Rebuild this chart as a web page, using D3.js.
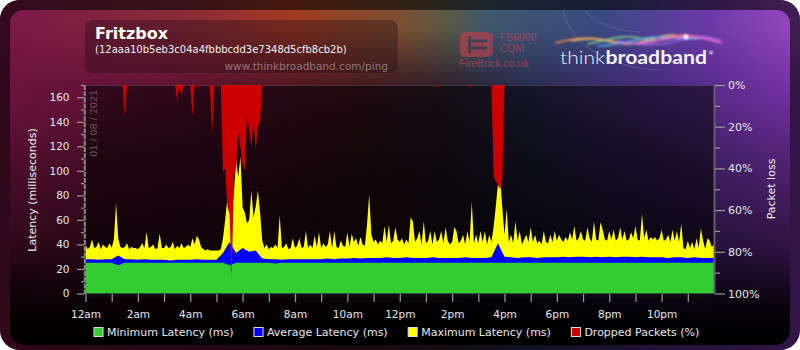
<!DOCTYPE html>
<html><head><meta charset="utf-8">
<script src="https://cdn.jsdelivr.net/npm/d3@7"></script>
<style>html,body{margin:0;padding:0;background:#fff;} svg{display:block;font-family:"DejaVu Sans",sans-serif;}</style>
</head><body><svg id="c" width="800" height="350"></svg>
<script>
// ---------------- DATA ----------------
const chartTitle = "Fritzbox";
const chartId = "(12aaa10b5eb3c04a4fbbbcdd3e7348d5cfb8cb2b)";
const chartUrl = "www.thinkbroadband.com/ping";
const chartDate = "01 / 08 / 2021";
const hourTicks = [0,1,2,3,4,5,6,7,8,9,10,11,12,13,14,15,16,17,18,19,20,21,22,23];
const hourLabels = {0:"12am",2:"2am",4:"4am",6:"6am",8:"8am",10:"10am",12:"12pm",14:"2pm",16:"4pm",18:"6pm",20:"8pm",22:"10pm"};
const latencyTicks = [0,20,40,60,80,100,120,140,160];
const latencyMinorTicks = [10,30,50,70,90,110,130,150,170];
const lossTicks = [0,20,40,60,80,100];
const lossMinorTicks = [10,30,50,70,90];
const legendLabels = ["Minimum Latency (ms)","Average Latency (ms)","Maximum Latency (ms)","Dropped Packets (%)"];
const legendColors = ["#33cc33","#0000ff","#ffff00","#cc0000"];

// maximum latency (ms), one value every 5 minutes from 00:00 to 24:00
const maxLatency = [
40,36,38,44,37,38,42,36,40,38,37,41,
37,44,74,45,38,37,38,41,36,38,37,37,
36,38,41,37,50,37,38,40,36,37,49,37,
37,40,37,38,42,36,39,37,41,37,38,40,
38,45,40,47,44,38,36,35,36,35,35,35,
35,35,36,45,60,78,74,62,82,109,95,112,
70,66,57,60,84,62,71,84,66,43,37,40,
36,38,37,40,37,64,37,38,41,36,37,45,
37,39,45,37,38,51,37,40,37,47,38,50,
37,41,38,40,51,37,51,38,37,43,39,38,
50,38,49,42,45,39,46,40,39,56,81,48,
42,44,40,43,41,55,42,56,41,43,54,44,
42,45,40,44,41,62,59,42,45,51,40,59,
41,43,51,40,51,42,44,51,41,54,43,40,
42,54,51,41,43,48,40,51,42,75,41,48,
41,51,42,51,40,48,42,54,71,89,95,70,
48,69,42,48,41,59,43,51,40,44,48,42,
54,42,48,41,43,40,51,42,41,48,42,51,
43,48,44,42,46,43,50,44,55,43,45,51,
44,43,54,45,42,59,44,43,58,52,44,43,
51,44,52,43,45,54,44,51,43,44,50,45,
55,44,43,65,45,52,43,46,44,46,43,45,
52,43,44,48,42,52,43,51,42,57,37,36,
43,37,42,36,45,37,53,43,36,45,43,38,
40];

// average latency (ms), one value every 15 minutes
const avgLatency = [
28,28,27.5,28, 28,31,28,28, 27.5,28,27.5,27.5, 27.5,27,27.5,27.5,
27.5,28,27.5,27.5, 27.5,33,42,33, 37,34,35,28.5, 28,28,27.5,28,
28,28,28,28, 28,28.5,28,28.5, 28.5,29,28.5,29, 29,29,29.5,29,
29,29.5,29,29, 29,29.5,29,29, 29,29,29.5,29, 29,29,29.5,41,
30,29.5,29,29.5, 29.5,29,29.5,29.5, 29.5,30,29.5,30, 30,29.5,30,29.5,
30,29.5,30,30, 29.5,30,29.5,29.5, 29.5,29,29.5,29.5, 29,29.5,29,29,
29];

// minimum latency (ms), one value every 15 minutes
const minLatency = [
25,25,25,25, 25,23,25,25, 25,25,25,25, 25,25,25,25,
25,25,25,25, 25,25,23,25, 25,25,25,25, 25,24.5,25,25,
25,25,25,25, 25,25,25,25, 25,25,25,25, 25,25,25,25,
25,25,25,25, 25,25,25,25, 25,25,25,25, 25,25,25,25,
25,25,25,25, 25,25,25,25, 25,25,25,25, 25,25,25,25,
25,25,25,25, 25,25,25,25, 25,25,25,25, 25,25,25,25,
25];

// dropped packets (%), one value every 5 minutes
const droppedPct = [
0,0,0,0,0,0,0,0,0,0,0,0,
0,0,0,0,0,0,15,0,0,0,0,0,
0,0,0,0,0,0,0,0,0,0,0,0,
0,0,0,0,0,0,8,0,5,0,0,0,
0,15,0,0,1,0,0,0,0,0,24,0,
0,0,0,42,40,58,62,93,44,40,23,30,
38,41,14,22,30,17,31,20,17,0,0,0,
0,0,0,0,0,0,0,0,0,0,0,0,
0,0,0,0,0,0,0,0,0,0,0,0,
0,0,0,0,0,0,0,0,0,0,0,0,
0,0,0,0,0,0,0,0,0,0,0,0,
0,0,0,0,0,0,0,0,0,0,0,0,
0,0,0,0,0,0,0,0,0,0,0,0,
0,0,0,0,0,1,0,0,0,0,0,0,
0,0,0,0,0,0,0,0,1,0,0,0,
0,0,0,0,0,0,0,44,46,48,50,45,
0,0,0,0,0,0,0,0,0,0,0,0,
0,0,0,0,0,0,0,0,0,0,0,0,
0,0,0,0,0,0,0,0,0,0,0,0,
0,0,0,0,0,0,0,0,0,0,0,0,
0,0,0,0,0,0,0,0,0,0,0,0,
0,0,0,0,0,0,0,0,0,0,0,0,
0,0,0,0,0,0,0,0,0,0,0,0,
0,0,0,0,0,0,0,0,0,0,0,0,
0];

// ---------------- DRAW ----------------
const svg = d3.select("#c");
const defs = svg.append("defs");
function lin(id, stops, vertical){
  const g = defs.append("linearGradient").attr("id", id)
    .attr("x1",0).attr("y1",0).attr("x2",vertical?0:1).attr("y2",vertical?1:0);
  stops.forEach(s=>g.append("stop").attr("offset",s[0]).attr("stop-color",s[1]).attr("stop-opacity", s[2]===undefined?1:s[2]));
  return g;
}
lin("topCol", [[0,"#7a1848"],[0.22,"#8a2a3a"],[0.37,"#a23c22"],[0.5,"#7c5030"],[0.56,"#5a5a4a"],[0.61,"#40586c"],[0.75,"#3a4a82"],[0.88,"#6a3aa8"],[1,"#9a48c0"]]);
lin("bodyCol", [[0,"#721540"],[0.25,"#5a1030"],[0.45,"#3e1420"],[0.56,"#2c1c2c"],[0.66,"#2a2a50"],[0.82,"#4a2a82"],[1,"#7a32aa"]]);
lin("topMaskG", [[0,"#fff"],[0.08,"#fff"],[0.27,"#000"],[1,"#000"]], true);
lin("dark", [[0,"#000",0],[0.28,"#000",0.05],[0.45,"#000",0.3],[0.7,"#000",0.6],[0.85,"#000",0.88],[0.92,"#000",0.97],[1,"#000",1]], true);
lin("plotBg", [[0,"#000",0.5],[1,"#000",0.6]], true);
const mask = defs.append("mask").attr("id","topMask");
mask.append("rect").attr("x",0).attr("y",0).attr("width",800).attr("height",350).attr("fill","url(#topMaskG)");
defs.append("clipPath").attr("id","inner").append("rect").attr("x",10).attr("y",10).attr("width",780).attr("height",335).attr("rx",14);
defs.append("clipPath").attr("id","plotclip").append("rect").attr("x",85.5).attr("y",85).attr("width",628.5).attr("height",208.5);
defs.append("filter").attr("id","blur").attr("x",-0.2).attr("y",-1).attr("width",1.4).attr("height",3)
  .append("feGaussianBlur").attr("stdDeviation",1.2);

// card frame
svg.append("rect").attr("width",800).attr("height",350).attr("rx",20).attr("fill","url(#bodyCol)");
svg.append("rect").attr("width",800).attr("height",350).attr("rx",20).attr("fill","url(#topCol)").attr("mask","url(#topMask)");
svg.append("rect").attr("width",800).attr("height",350).attr("rx",20).attr("fill","#000").attr("opacity",0.58);
// inner panel
const inner = svg.append("g").attr("clip-path","url(#inner)");
inner.append("rect").attr("width",800).attr("height",350).attr("fill","url(#bodyCol)");
inner.append("rect").attr("width",800).attr("height",350).attr("fill","url(#topCol)").attr("mask","url(#topMask)");
inner.append("rect").attr("width",800).attr("height",350).attr("fill","url(#dark)");
// faint arcs
inner.append("path").attr("d","M563,10 Q570,40 600,55 T660,70").attr("fill","none").attr("stroke","#fff").attr("stroke-opacity",0.15).attr("stroke-width",1);
inner.append("path").attr("d","M585,10 Q600,30 640,32").attr("fill","none").attr("stroke","#fff").attr("stroke-opacity",0.12).attr("stroke-width",1);

// title box
svg.append("rect").attr("x",85).attr("y",20).attr("width",313).attr("height",53).attr("rx",8).attr("fill","#1e0a14").attr("opacity",0.35);
svg.append("text").attr("x",95).attr("y",38.5).attr("font-size",16).attr("font-weight","bold").attr("fill","#fff").text(chartTitle);
svg.append("text").attr("x",95).attr("y",52.5).attr("font-size",10).attr("fill","#f0f0f0").text(chartId);
svg.append("text").attr("x",388).attr("y",70).attr("font-size",10.5).attr("text-anchor","end").attr("fill","#fff").attr("fill-opacity",0.4).text(chartUrl);

// FireBrick logo
const fb = svg.append("g").attr("opacity",0.62);
fb.append("path").attr("d","M466,32 H486 Q493,32 493,38 V41 Q493,44 490,44.5 Q493,45 493,48 V51 Q493,57 486,57 H466 Q460,57 460,51 V38 Q460,32 466,32 Z").attr("fill","#c4404e");
fb.append("rect").attr("x",471).attr("y",39.5).attr("width",16).attr("height",3).attr("fill","#4a3a48");
fb.append("rect").attr("x",471).attr("y",46.5).attr("width",16).attr("height",3).attr("fill","#4a3a48");
fb.append("rect").attr("x",468).attr("y",36).attr("width",3).attr("height",17).attr("fill","#4a3a48");
fb.selectAll("text.fb").data([["FB6000",500,41],["CQM",500,52],["FireBrick.co.uk",459.5,67]]).enter().append("text")
  .attr("x",d=>d[1]).attr("y",d=>d[2]).attr("font-family","Liberation Sans, Arial, sans-serif").attr("font-size",10.5).attr("fill","#d04a5e").text(d=>d[0]);

// thinkbroadband logo
const sw = svg.append("g").attr("filter","url(#blur)").attr("fill","none").attr("stroke-linecap","round").attr("opacity",0.8);
[["M556,43 C580,36 600,38 615,42 C632,46 648,44 665,38 C680,33 700,36 718,42","#ff8a4a",2],
 ["M572,41 C595,35 610,44 628,44 C645,44 655,34 674,35","#ffd870",1.6],
 ["M588,44 C608,40 622,34 640,38 C655,42 665,40 684,36","#8ef08a",1.6],
 ["M598,46 C620,46 640,36 660,37 C675,38 690,40 706,38","#60d0ff",1.6],
 ["M618,41 C640,45 660,47 680,40 C695,35 705,36 720,40","#a070ff",1.8],
 ["M638,44 C660,40 680,35 695,37 C705,38 712,40 722,43","#ff70e0",1.8]]
 .forEach(p=>sw.append("path").attr("d",p[0]).attr("stroke",p[1]).attr("stroke-width",p[2]));
svg.append("circle").attr("cx",686).attr("cy",37).attr("r",2.5).attr("fill","#fff").attr("filter","url(#blur)");
svg.append("text").attr("x",560).attr("y",64).attr("font-family","Lato, sans-serif").attr("font-weight",300).attr("font-size",18)
  .attr("fill","#f4f0f8").attr("textLength",45).attr("lengthAdjust","spacingAndGlyphs").text("think");
svg.append("text").attr("x",605.5).attr("y",64).attr("font-family","Lato, sans-serif").attr("font-weight",700).attr("font-size",18)
  .attr("fill","#f4f0f8").attr("textLength",101.5).attr("lengthAdjust","spacingAndGlyphs").text("broadband");
svg.append("text").attr("x",708).attr("y",55).attr("font-size",6).attr("fill","#f4f0f8").text("®");

// scales
const x = d3.scaleLinear().domain([0,24]).range([85.5,714]);
const y = d3.scaleLinear().domain([0,170]).range([293.5,85]);
const yLoss = d3.scaleLinear().domain([0,100]).range([85,293.5]);
const x5 = (d,i)=>x(i/12);
const x15 = (d,i)=>x(i/4);

// plot background
svg.append("rect").attr("x",x(0)).attr("y",y(170)).attr("width",x(24)-x(0)).attr("height",y(0)-y(170)).attr("fill","url(#plotBg)");
svg.append("line").attr("x1",x(0)).attr("x2",x(24)).attr("y1",85.5).attr("y2",85.5).attr("stroke","#fff").attr("stroke-opacity",0.15);

// date
svg.append("text").attr("transform","translate(97,90) rotate(-90)").attr("text-anchor","end").attr("font-size",9.5)
  .attr("fill","#fff").attr("fill-opacity",0.32).text(chartDate);

// series
const pg = svg.append("g").attr("clip-path","url(#plotclip)");
pg.append("path").datum(maxLatency).attr("fill","#ffff00").attr("d",d3.area().x(x5).y0(y(0)).y1(d=>y(d)));
pg.append("path").datum(avgLatency).attr("fill","#0000ff").attr("d",d3.area().x(x15).y0(y(0)).y1(d=>y(d)));
pg.append("path").datum(minLatency).attr("fill","#33cc33").attr("d",d3.area().x(x15).y0(y(0)).y1(d=>y(d)));
pg.append("path").datum(droppedPct).attr("fill","#cc0000").attr("d",d3.area().x(x5).y0(yLoss(0)).y1(d=>yLoss(d)));

// left axis
svg.append("line").attr("x1",84.8).attr("x2",84.8).attr("y1",85).attr("y2",294).attr("stroke","#8a8a8a").attr("stroke-width",2).attr("stroke-dasharray","5,1.2");
const la1 = svg.append("g").attr("transform","translate(84,0)").call(d3.axisLeft(y).tickValues(latencyMinorTicks).tickSize(3).tickFormat(""));
const la2 = svg.append("g").attr("transform","translate(84,0)").call(d3.axisLeft(y).tickValues(latencyTicks).tickSize(7).tickPadding(7.5));
// right axis
svg.append("line").attr("x1",714.5).attr("x2",714.5).attr("y1",85).attr("y2",294).attr("stroke","#6a5a72").attr("stroke-width",2);
const ra1 = svg.append("g").attr("transform","translate(715,0)").call(d3.axisRight(yLoss).tickValues(lossMinorTicks).tickSize(5).tickFormat(""));
const ra2 = svg.append("g").attr("transform","translate(715,0)").call(d3.axisRight(yLoss).tickValues(lossTicks).tickSize(10).tickPadding(3).tickFormat(d=>d+"%"));
// bottom axis
svg.append("rect").attr("x",84).attr("y",294).attr("width",631).attr("height",4).attr("fill","#0e0a0e");
const ba = svg.append("g").attr("transform","translate(0,294)").call(d3.axisBottom(x).tickValues(hourTicks).tickSize(8).tickPadding(9).tickFormat(d=>hourLabels[d]||""));

[la1,la2,ra1,ra2,ba].forEach(a=>{
  a.select(".domain").remove();
  a.selectAll(".tick line").attr("stroke","#9a9a9a").attr("stroke-width",1.2);
  a.selectAll(".tick text").attr("fill","#e6e6e6").attr("font-family","DejaVu Sans, sans-serif");
});
la2.selectAll(".tick text").attr("font-size",10.5);
ra2.selectAll(".tick text").attr("font-size",11);
ba.selectAll(".tick text").attr("font-size",10.5);

// axis titles
svg.append("text").attr("transform","translate(36,190) rotate(-90)").attr("text-anchor","middle").attr("font-size",11).attr("fill","#eee").text("Latency (milliseconds)");
svg.append("text").attr("transform","translate(775,189) rotate(-90)").attr("text-anchor","middle").attr("font-size",11).attr("fill","#eee").text("Packet loss");

// legend
let lx = 93.5;
legendLabels.forEach((lab,i)=>{
  svg.append("rect").attr("x",lx+0.5).attr("y",327.5).attr("width",9).attr("height",9).attr("fill",legendColors[i]).attr("stroke","#ddd").attr("stroke-width",1);
  const t = svg.append("text").attr("x",lx+13.5).attr("y",336).attr("font-size",11).attr("fill","#e6e6e6").text(lab);
  lx += 13.5 + t.node().getComputedTextLength() + 20;
});
</script></body></html>
